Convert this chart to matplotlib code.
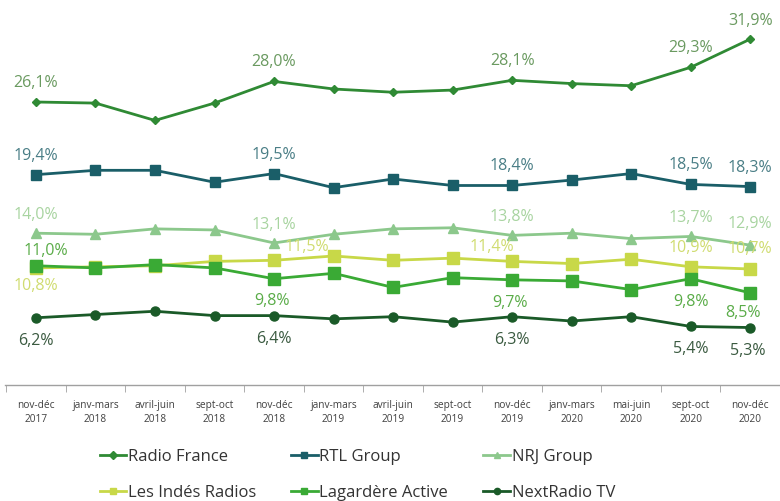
import matplotlib
matplotlib.use("Agg")
import matplotlib.pyplot as plt

plt.rcParams['font.family'] = ['Open Sans', 'DejaVu Sans']

# periods (x axis)
periods = ["nov-déc\n2017", "janv-mars\n2018", "avril-juin\n2018", "sept-oct\n2018",
           "nov-déc\n2018", "janv-mars\n2019", "avril-juin\n2019", "sept-oct\n2019",
           "nov-déc\n2019", "janv-mars\n2020", "mai-juin\n2020", "sept-oct\n2020",
           "nov-déc\n2020"]

# audience share (%) per group
radio_france = [26.1, 26.0, 24.4, 26.0, 28.0, 27.3, 27.0, 27.2, 28.1, 27.8, 27.6, 29.3, 31.9]
rtl_group = [19.4, 19.8, 19.8, 18.7, 19.5, 18.2, 19.0, 18.4, 18.4, 18.9, 19.5, 18.5, 18.3]
nrj_group = [14.0, 13.9, 14.4, 14.3, 13.1, 13.9, 14.4, 14.5, 13.8, 14.0, 13.5, 13.7, 12.9]
les_indes = [10.8, 10.9, 11.0, 11.4, 11.5, 11.9, 11.5, 11.7, 11.4, 11.2, 11.6, 10.9, 10.7]
lagardere = [11.0, 10.8, 11.1, 10.8, 9.8, 10.3, 9.0, 9.9, 9.7, 9.6, 8.8, 9.8, 8.5]
nextradio = [6.2, 6.5, 6.8, 6.4, 6.4, 6.1, 6.3, 5.8, 6.3, 5.9, 6.3, 5.4, 5.3]

# which points carry a value label
label_idx = [0, 4, 8, 11, 12]

series = [
    # name, values, line colour, label colour, marker, marker size, label offsets (dx, dy) in px
    ("Radio France", radio_france, "#2f8a34", "#6a9a60", "D", 4.5,
     [(0, 20), (0, 20), (0, 20), (0, 20), (0, 19)]),
    ("RTL Group", rtl_group, "#1a5e68", "#4a7e86", "s", 6.5,
     [(0, 20), (0, 20), (0, 20), (0, 20), (0, 20)]),
    ("NRJ Group", nrj_group, "#8cc88c", "#a8d4a0", "^", 7,
     [(0, 19), (0, 19), (0, 19), (0, 19), (0, 22)]),
    ("Les Indés Radios", les_indes, "#c8d848", "#d0dc70", "s", 8,
     [(0, -17), (33, 14), (-20, 15), (0, 20), (0, 21)]),
    ("Lagardère Active", lagardere, "#3aaa35", "#5aac48", "s", 8,
     [(10, 16), (-2, -21), (-2, -22), (0, -22), (-7, -19)]),
    ("NextRadio TV", nextradio, "#1a5a28", "#3a5a40", "o", 6.5,
     [(0, -22), (0, -22), (0, -22), (0, -22), (-2, -22)]),
]

fig = plt.figure(figsize=(7.8, 5.02), dpi=100)
ax = fig.add_axes([5 / 780, 116 / 502, 775 / 780, 386 / 502])

x = list(range(len(periods)))
handles = []
for name, vals, color, lcolor, marker, ms, offs in series:
    ln, = ax.plot(x, vals, color=color, lw=2, marker=marker, ms=ms,
                  markeredgecolor=color, markerfacecolor=color, label=name)
    handles.append(ln)
    for i, (dx, dy) in zip(label_idx, offs):
        ax.annotate(f"{vals[i]:.1f}%".replace(".", ","), (i, vals[i]),
                    xytext=(dx * 0.72, dy * 0.72), textcoords="offset points",
                    ha="center", va="center", fontsize=11.5, color=lcolor)

ax.set_xlim(-0.52, 12.47)
ax.set_ylim(0, 35.6)
ax.set_yticks([])
for s in ["top", "right", "left"]:
    ax.spines[s].set_visible(False)
ax.spines["bottom"].set_color("#a0a0a0")
ax.spines["bottom"].set_linewidth(1)

# category labels centred, tick marks between categories
ax.set_xticks(x)
ax.set_xticklabels(periods, fontsize=7.3, color="#404040", linespacing=1.35)
ax.tick_params(axis="x", which="major", length=0, pad=10)
ax.set_xticks([i - 0.5 for i in range(len(periods) + 1)], minor=True)
ax.tick_params(axis="x", which="minor", length=5, color="#a0a0a0")

# legend in row order
order = [0, 3, 1, 4, 2, 5]
leg = fig.legend([handles[i] for i in order], [series[i][0] for i in order],
                 loc="center", bbox_to_anchor=(0.458, 0.053), ncol=3, frameon=False,
                 fontsize=12, handlelength=1.6, handletextpad=0.1,
                 columnspacing=2.1, labelspacing=1.2, labelcolor="#333333")
for h in leg.legend_handles:
    h.set_markersize(4.5)

fig.savefig("out.png", dpi=100)
